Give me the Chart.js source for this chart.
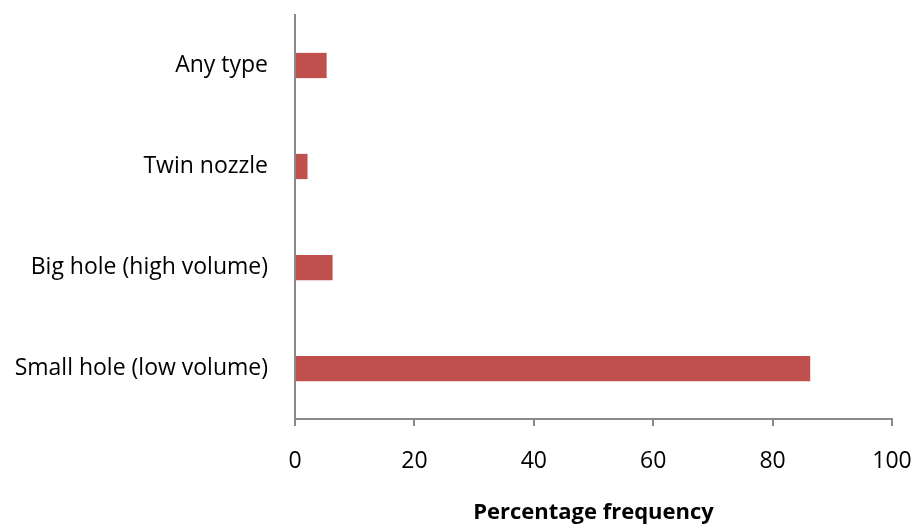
<!DOCTYPE html>
<html>
<head>
<meta charset="utf-8">
<script src="https://cdn.jsdelivr.net/npm/chart.js@4/dist/chart.umd.min.js"></script>
<style>
  html, body { margin: 0; padding: 0; background: #ffffff; }
  #wrap { width: 915px; height: 526px; }
</style>
</head>
<body>
<div id="wrap"><canvas id="chart" width="915" height="526"></canvas></div>
<script>
// Nozzle types, listed top to bottom
const categories = ['Any type', 'Twin nozzle', 'Big hole (high volume)', 'Small hole (low volume)'];
// Percentage frequency for each nozzle type
const frequency = [5.3, 2.1, 6.3, 86.3];
// Value axis range and step
const axisMin = 0;
const axisMax = 100;
const axisStep = 20;

const axisGrey = '#898989';
const fontFamily = '"Open Sans", "DejaVu Sans", sans-serif';

new Chart(document.getElementById('chart'), {
  type: 'bar',
  data: {
    labels: categories,
    datasets: [{
      data: frequency,
      backgroundColor: '#C0504D',
      borderWidth: 0,
      categoryPercentage: 1.0,
      barPercentage: 0.25
    }]
  },
  options: {
    indexAxis: 'y',
    responsive: false,
    animation: false,
    devicePixelRatio: 1,
    layout: { padding: { top: 15, right: 23, bottom: 0, left: 0 } },
    plugins: {
      legend: { display: false },
      tooltip: { enabled: false }
    },
    scales: {
      x: {
        min: axisMin,
        max: axisMax,
        ticks: {
          stepSize: axisStep,
          color: '#000000',
          padding: 22,
          font: { family: fontFamily, size: 23 },
          maxRotation: 0
        },
        grid: {
          drawOnChartArea: false,
          drawTicks: true,
          tickLength: 7,
          color: axisGrey,
          lineWidth: 2
        },
        border: { display: true, color: axisGrey, width: 2 },
        title: {
          display: true,
          text: 'Percentage frequency',
          color: '#000000',
          font: { family: fontFamily, size: 22, weight: 'bold' },
          padding: { top: 0, bottom: 0 }
        },
        afterFit(scale) {
          scale.height = 107;
          scale.paddingLeft = 0;
          scale.paddingRight = 0;
        }
      },
      y: {
        ticks: {
          color: '#000000',
          padding: 27,
          font: { family: fontFamily, size: 23 }
        },
        grid: {
          drawOnChartArea: false,
          drawTicks: false,
          color: axisGrey
        },
        border: { display: true, color: axisGrey, width: 2 },
        afterFit(scale) {
          scale.width = 295;
          scale.paddingTop = 0;
          scale.paddingBottom = 0;
        }
      }
    }
  }
});
</script>
</body>
</html>
